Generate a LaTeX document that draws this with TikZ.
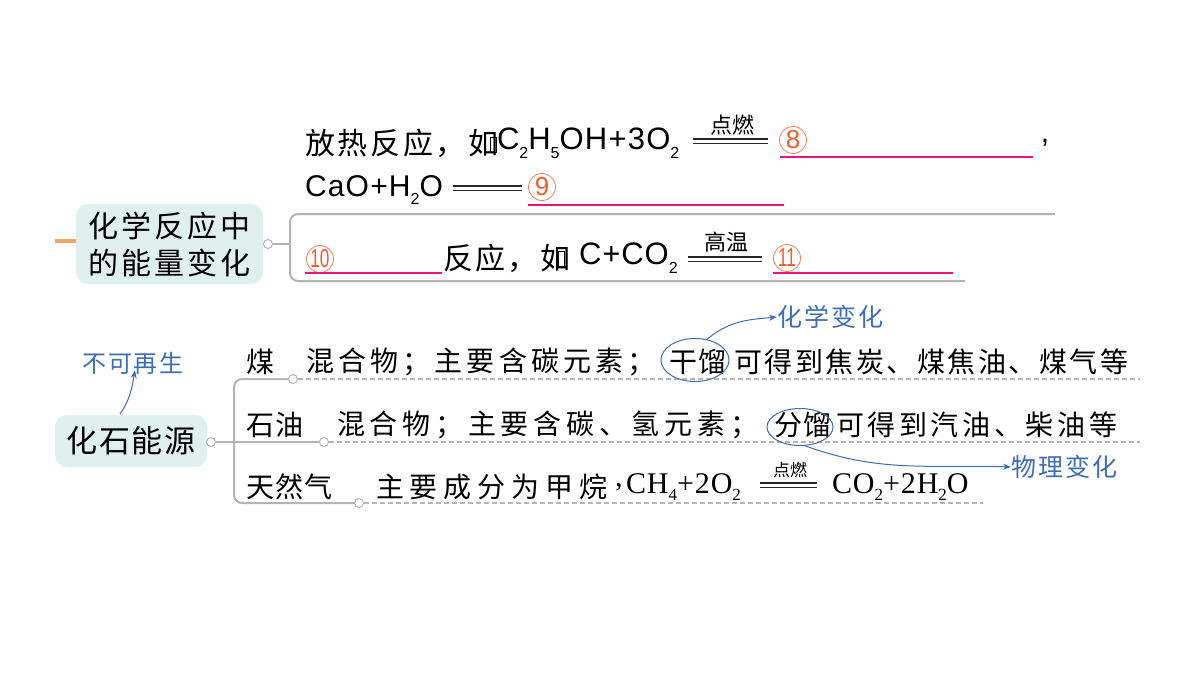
\documentclass[tikz,border=0pt]{standalone}
\usepackage{fontspec}
\setmainfont{Noto Sans CJK SC}
\newfontfamily\lsans{Liberation Sans}
\newfontfamily\lserif{Liberation Serif}
\usetikzlibrary{shapes.geometric,arrows.meta}
\definecolor{brgray}{HTML}{B4B4B4}
\definecolor{boxfill}{HTML}{E0F0EF}
\definecolor{orline}{HTML}{F2A46C}
\definecolor{numcol}{HTML}{EC5F2C}
\definecolor{pinkcol}{HTML}{E8157F}
\definecolor{bluecol}{HTML}{3E6DB5}
\newcommand\lsp[1]{\addfontfeature{LetterSpace=#1}}
\newcommand\fs[1]{\fontsize{#1}{#1}\selectfont}
\newcommand\sbs[1]{\raisebox{-0.28em}{\fontsize{16}{16}\selectfont #1}}
\newcommand\sbt[1]{\raisebox{-0.22em}{\fontsize{17}{17}\selectfont #1}}
\begin{document}
\begin{tikzpicture}[x=1pt,y=-1pt,
  txt/.style={inner sep=0pt,outer sep=0pt,anchor=west},
  ctxt/.style={inner sep=0pt,outer sep=0pt},
  topic/.style={rounded corners=12pt,fill=boxfill,inner sep=0pt,align=center},
  dot/.style={circle,draw=brgray,fill=white,line width=1pt,minimum size=9pt,inner sep=0pt},
  br/.style={draw=brgray,line width=2pt},
  dsh/.style={draw=brgray,line width=1.5pt,dash pattern=on 5pt off 3pt},
  eqline/.style={line width=1.1pt,black!85},
  pinkl/.style={draw=pinkcol,line width=1.5pt},
  circnum/.style={circle,draw=numcol!80,line width=0.8pt,text=numcol,minimum size=27pt,inner sep=0pt,font=\lsans\fs{26}},
  blue/.style={text=bluecol,inner sep=0pt},
  barrow/.style={draw=bluecol,line width=1pt,-{Stealth[length=8pt,width=6pt]}},
  bell/.style={ellipse,draw=bluecol,line width=1pt,inner sep=0pt}
]
\useasboundingbox (0,0) rectangle (1200,675);

% ---------- top section ----------
\coordinate (o1) at (55,241);
\node[topic,minimum width=187pt,minimum height=80pt,
      font={\fontsize{30}{37}\selectfont\addfontfeature{LetterSpace=10}}] (b1) at (169.5,244)
  {化学反应中\\ 的能量变化};
\draw[orline,line width=4pt] (o1) -- (b1.west|-o1);
\node[dot] (d1) at (268,244) {};
\coordinate (k1) at (290,244);
\coordinate (t1e) at (1055,214);
\coordinate (b1e) at (965,281);
\draw[br] (d1) -- (k1);
\draw[br,rounded corners=8pt] (t1e) -- (290,214) -- (290,281) -- (b1e);

% line 1
\node[txt] (l1a) at (305,143) {\fs{30}\lsp{9}放热反应，如};
\draw[line width=0.6pt] (490,137) rectangle (496,152);
\node[txt] (l1b) at (497,143) {\lsans\fs{31}\lsp{4}C\sbs{2}H\sbs{5}OH+3O\sbs{2}};
\draw[eqline] (693,139) -- (768,139);
\draw[eqline] (693,143.5) -- (768,143.5);
\node[ctxt] (e1) at (732,125) {\fs{22}点燃};
\node[circnum] (n8) at (793,140) {8};
\draw[pinkl] (780,157) -- (1033,157);
\node[ctxt] (cm1) at (1045,143) {\lsans\fs{30},};

% line 2
\node[txt] (l2a) at (305,190) {\lsans\fs{30}\lsp{4}CaO+H\sbs{2}O};
\draw[eqline] (453,186) -- (522,186);
\draw[eqline] (453,190.5) -- (522,190.5);
\node[circnum] (n9) at (542,187) {9};
\draw[pinkl] (528,205) -- (784,205);

% line 3
\node[circnum] (n10) at (320,259) {\scalebox{0.66}[1]{10}};
\draw[pinkl] (305,273) -- (442,273);
\node[txt] (l3a) at (443,258) {\fs{30}\lsp{8}反应，如};
\draw[line width=0.6pt] (558,251) rectangle (564,266);
\node[txt] (l3b) at (579,258) {\lsans\fs{31}\lsp{3}C+CO\sbs{2}};
\draw[eqline] (688,257) -- (762,257);
\draw[eqline] (688,261.5) -- (762,261.5);
\node[ctxt] (e2) at (726,242) {\fs{22}高温};
\node[circnum] (n11) at (787,258) {\scalebox{0.66}[1]{11}};
\draw[pinkl] (773,273) -- (953,273);

% ---------- bottom section ----------
\node[topic,minimum width=152pt,minimum height=52pt] (b2) at (131,441)
  {\fs{31}\lsp{5}化石能源};
\node[dot] (d2) at (211,442) {};
\node[dot] (c1) at (293,379) {};
\node[dot] (c2) at (324,442) {};
\node[dot] (c3) at (359,503) {};
\coordinate (r1e) at (1140,379);
\coordinate (r2e) at (1140,442);
\coordinate (r3e) at (983,503);
\draw[br,rounded corners=8pt] (c1) -- (234,379) -- (234,503) -- (c3);
\draw[br] (d2) -- (c2);
\draw[dsh] (c1) -- (r1e);
\draw[dsh] (c2) -- (r2e);
\draw[dsh] (c3) -- (r3e);

\node[txt] (k1t) at (246,362) {\fs{28}煤};
\node[txt] (k2t) at (246,425) {\fs{28}\lsp{4}石油};
\node[txt] (k3t) at (246,487) {\fs{28}\lsp{4}天然气};

% row 1
\node[txt] (r1a) at (306,362) {\fs{28}\lsp{15}混合物；主要含碳元素；};
\node[ctxt] (r1b) at (698,362) {\fs{28}\lsp{5}干馏};
\node[txt] (r1c) at (734,362) {\fs{28}\lsp{9}可得到焦炭、煤焦油、煤气等};
\node[bell,minimum width=68pt,minimum height=43pt] (el1) at (695,360) {};

% row 2
\node[txt] (r2a) at (337,425) {\fs{28}\lsp{17}混合物；主要含碳、氢元素；};
\node[ctxt] (r2b) at (803,425) {\fs{28}\lsp{5}分馏};
\node[txt] (r2c) at (836,425) {\fs{28}\lsp{13}可得到汽油、柴油等};
\node[bell,minimum width=66pt,minimum height=37pt] (el2) at (800,427) {};

% row 3
\node[txt] (r3a) at (376,487) {\fs{28}\lsp{21}主要成分为甲烷};
\node[txt] (r3c) at (615,487) {\lserif\fs{30},};
\node[txt] (r3b) at (626,487) {\lserif\fs{30}\lsp{3}CH\sbt{4}+2O\sbt{2}};
\draw[eqline] (760,483) -- (817,483);
\draw[eqline] (760,487.5) -- (817,487.5);
\node[ctxt] (e3) at (790,470) {\fs{17}点燃};
\node[txt] (r3d) at (832,487) {\lserif\fs{30}\lsp{3}CO\sbt{2}+2H\sbt{2}O};

% blue annotations
\node[blue] (nr) at (133,363) {\fs{24}\lsp{8}不可再生};
\coordinate (a0) at (120,414);
\draw[barrow] (a0) to[out=55,in=-100] ([xshift=2pt,yshift=4pt]nr.south);
\node[blue,anchor=west] (chem) at (777,317) {\fs{25}\lsp{8}化学变化};
\draw[barrow] (el1.60) to[out=40,in=185] (chem.west);
\node[blue,anchor=west] (phys) at (1011,467) {\fs{25}\lsp{8}物理变化};
\draw[barrow] (el2.-75) to[out=-20,in=178] (phys.west);
\end{tikzpicture}
\end{document}
